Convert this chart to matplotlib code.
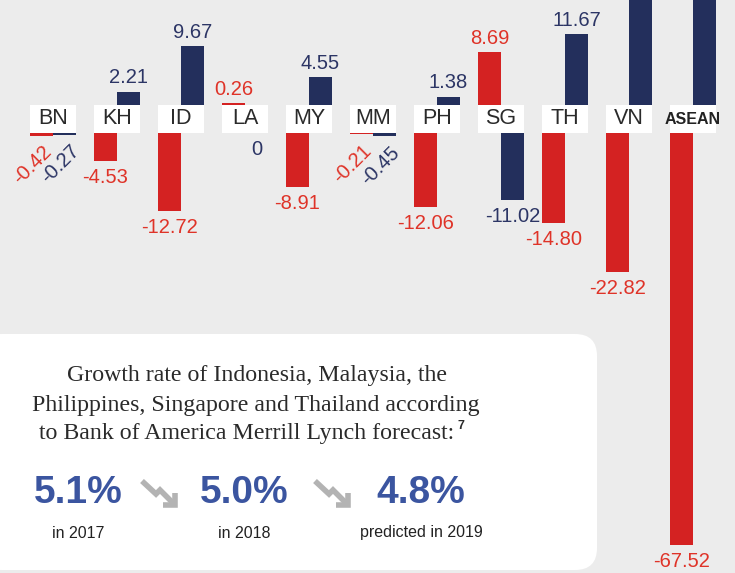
import numpy as np
import matplotlib.pyplot as plt
from matplotlib.patches import FancyBboxPatch, Rectangle

# per-country change, two periods (red = first, navy = second)
countries = ['BN', 'KH', 'ID', 'LA', 'MY', 'MM', 'PH', 'SG', 'TH', 'VN', 'ASEAN']
red_vals = [-0.42, -4.53, -12.72, 0.26, -8.91, -0.21, -12.06, 8.69, -14.80, -22.82, -67.52]
navy_vals = [-0.27, 2.21, 9.67, 0.0, 4.55, -0.45, 1.38, -11.02, 11.67, 28.40, 41.90]

growth = ['5.1%', '5.0%', '4.8%']
growth_when = ['in 2017', 'in 2018', 'predicted in 2019']

RED = '#d42222'
NAVY = '#232f5c'
RED_TXT = '#df3328'
NAVY_TXT = '#2c3565'
BG = '#ececec'

W, H = 735, 573
fig = plt.figure(figsize=(W / 100, H / 100), dpi=100)
fig.patch.set_facecolor(BG)

ax = fig.add_axes([0, 0, 1, 1])
ax.set_facecolor(BG)
ax.axis('off')

PX = 64.0          # pixels per country slot
X0 = 53.0          # centre of first slot
S = 6.1            # pixels per unit
YC = 119.0         # centre of the label strip
HALF = 14.0 / S    # half height of the label strip in units
ax.set_xlim(-X0 / PX, (W - X0) / PX)
ax.set_ylim(-(H - YC) / S, YC / S)
ytop = YC / S

bw = 23.0 / PX
x = np.arange(len(countries))
red = np.array(red_vals)
navy = np.array(navy_vals)
FS = 14.5

for vals, xs, col, tcol, dx in [(red, x - bw / 2, RED, RED_TXT, 0),
                                 (navy, x + bw / 2, NAVY, NAVY_TXT, 4)]:
    bottoms = np.where(vals > 0, HALF, -HALF)
    ax.bar(xs, vals, width=bw, bottom=bottoms, color=col, zorder=2)
    for xi, v, b in zip(xs, vals, bottoms):
        end = b + v
        if end > ytop:
            continue
        lab = f'{v:.2f}' if v != 0 else '0'
        if v > 0:
            ax.annotate(lab, (xi, end), xytext=(0, 3), textcoords='offset points',
                        ha='center', va='bottom', color=tcol, fontsize=FS,
                        family='Liberation Sans')
        elif v < 0 and abs(v) < 1:
            ax.annotate(lab, (xi, end), xytext=(dx, -5), textcoords='offset points',
                        ha='right', va='top', rotation=45, rotation_mode='anchor',
                        color=tcol, fontsize=FS, family='Liberation Sans')
        else:
            ax.annotate(lab, (xi, end), xytext=(0, -5), textcoords='offset points',
                        ha='center', va='top', color=tcol, fontsize=FS,
                        family='Liberation Sans')

# white label strip
for i, c in enumerate(countries):
    ax.add_patch(Rectangle((i - bw, -HALF), 2 * bw, 2 * HALF, fc='white',
                           ec='none', zorder=3))
    if c == 'ASEAN':
        ax.text(i, 0, c, ha='center', va='center', fontsize=11.5, weight='bold',
                color='#222222', family='Liberation Sans', zorder=4)
    else:
        ax.text(i, 0, c, ha='center', va='center', fontsize=15.5,
                color='#2a2a2a', family='Liberation Sans', zorder=4)

# info panel in pixel coordinates
ov = fig.add_axes([0, 0, 1, 1])
ov.set_xlim(0, W)
ov.set_ylim(H, 0)
ov.axis('off')
ov.patch.set_alpha(0)

ov.add_patch(FancyBboxPatch((-20, 334), 617, 236,
                            boxstyle='round,pad=0,rounding_size=22',
                            fc='white', ec='none'))

title = ['Growth rate of Indonesia, Malaysia, the',
         'Philippines, Singapore and Thailand according',
         'to Bank of America Merrill Lynch forecast:']
ty = [376, 405, 433]
tx = [257, 256, 247]
lines = []
for s, xx, yy in zip(title, tx, ty):
    lines.append(ov.text(xx, yy, s, ha='center', va='center', fontsize=17.2,
                         family='Liberation Serif', color='#2a2a2a'))

fig.canvas.draw()
bb = lines[-1].get_window_extent(fig.canvas.get_renderer())
ov.text(bb.x1 + 3, ty[-1] - 7, '7', ha='left', va='center', fontsize=9,
        weight='bold', family='Liberation Sans', color='#2a2a2a')

gx = [78, 244, 421]
for xx, g, w in zip(gx, growth, growth_when):
    ov.text(xx, 493, g, ha='center', va='center', fontsize=28, weight='bold',
            family='Liberation Sans', color='#3b55a0')
    ov.text(xx, 533, w, ha='center', va='center', fontsize=11.5,
            family='Liberation Sans', color='#222222')

# grey down-right arrows between the figures
for a0 in [142, 315]:
    ov.plot([a0, a0 + 14, a0 + 18, a0 + 32],
            [481, 494, 490, 504], color='#b3b3b3', lw=4,
            solid_capstyle='butt', solid_joinstyle='miter')
    ov.plot([a0 + 33, a0 + 33, a0 + 21],
            [493, 505, 505], color='#b3b3b3', lw=4,
            solid_capstyle='butt', solid_joinstyle='miter')

fig.savefig('out.png', dpi=100, facecolor=BG)
